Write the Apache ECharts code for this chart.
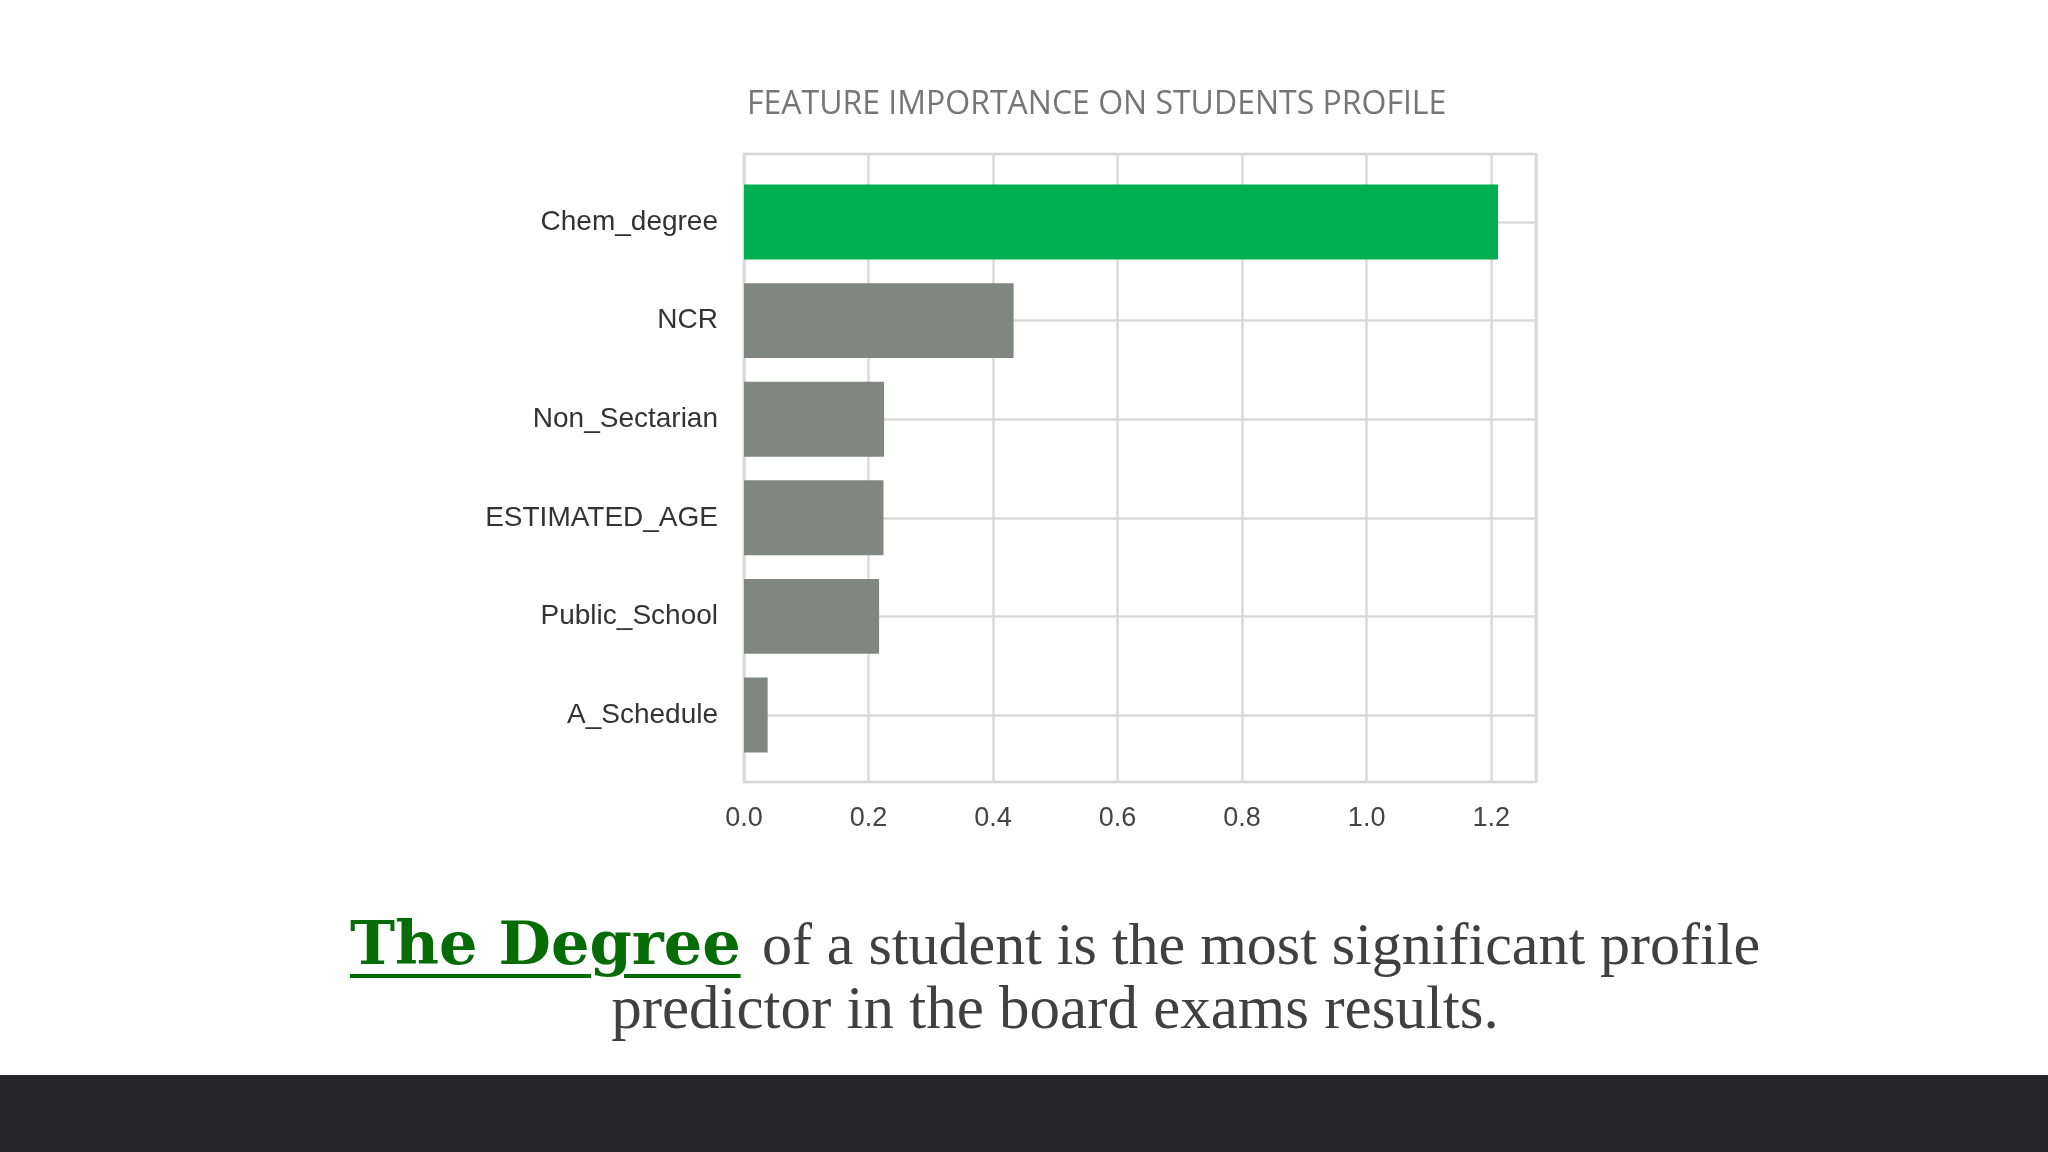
<!DOCTYPE html>
<html>
<head>
<meta charset="utf-8">
<script src="https://cdn.jsdelivr.net/npm/echarts@6/dist/echarts.min.js"></script>
<style>
  html, body { margin: 0; padding: 0; background: #ffffff; }
  #chart { position: absolute; left: 0; top: 0; width: 2048px; height: 1152px; }
  .cap { position: absolute; left: 31px; width: 2048px; text-align: center; white-space: nowrap;
         font-family: "Liberation Serif", "DejaVu Serif", serif; font-size: 61px; line-height: 65px; color: #404040; }
  .hl { font-family: "DejaVu Serif", serif; font-weight: bold; font-size: 60.5px; color: #066c06;
        text-decoration: underline; text-decoration-thickness: 4px; text-underline-offset: 10px; margin-right: 6px; }
  .rest { font-size: 60px; }
  #footer { position: absolute; left: 0; top: 1075px; width: 2048px; height: 77px; background: #262628; }
</style>
</head>
<body>
<div id="chart"></div>
<div class="cap" style="top:910px;"><span class="hl">The Degree</span> <span class="rest">of a student is the most significant profile</span></div>
<div class="cap" style="top:975px;">predictor in the board exams results.</div>
<div id="footer"></div>
<script>
const titleText = 'FEATURE IMPORTANCE ON STUDENTS PROFILE';
const categories = ['Chem_degree', 'NCR', 'Non_Sectarian', 'ESTIMATED_AGE', 'Public_School', 'A_Schedule'];
const importance = [1.211, 0.433, 0.225, 0.224, 0.217, 0.038];
const highlighted = ['Chem_degree'];
const xMin = 0;
const xMax = 1.272;
const xStep = 0.2;

const GREEN = '#00b050';
const GRAY = '#7f8780';
const GRID_COLOR = '#dadada';

const chart = echarts.init(document.getElementById('chart'), null, { renderer: 'canvas' });

const barData = categories.map((c, i) => ({
  value: importance[i],
  itemStyle: { color: highlighted.includes(c) ? GREEN : GRAY }
}));

chart.setOption({
  backgroundColor: '#ffffff',
  animation: false,
  title: {
    text: titleText,
    left: 742,
    top: 84,
    textStyle: { fontFamily: 'Open Sans', fontWeight: 'normal', fontSize: 32, color: '#767676' }
  },
  grid: [
    { left: 744, top: 154, width: 792, height: 628, show: true, borderColor: '#d4d4d4', borderWidth: 2.5, backgroundColor: 'transparent' },
    { left: 744, top: 222, width: 792, height: 493 }
  ],
  xAxis: [
    {
      gridIndex: 0, type: 'value', min: xMin, max: xMax, interval: xStep,
      axisLine: { show: false }, axisTick: { show: false },
      splitLine: { show: true, lineStyle: { color: GRID_COLOR, width: 2.5 } },
      axisLabel: {
        showMaxLabel: false, margin: 23, fontSize: 27, color: '#444444',
        fontFamily: 'Liberation Sans',
        formatter: v => v.toFixed(1)
      }
    },
    { gridIndex: 1, type: 'value', min: xMin, max: xMax, show: false, splitLine: { show: false } }
  ],
  yAxis: [
    { gridIndex: 0, type: 'value', show: false, splitLine: { show: false } },
    {
      gridIndex: 1, type: 'category', data: categories, inverse: true, boundaryGap: false,
      axisLine: { show: false }, axisTick: { show: false },
      splitLine: { show: true, lineStyle: { color: GRID_COLOR, width: 2.5 } },
      axisLabel: { margin: 26, fontSize: 28, color: '#333333', fontFamily: 'Liberation Sans', padding: [5, 0, 0, 0] }
    }
  ],
  series: [
    {
      type: 'bar', xAxisIndex: 1, yAxisIndex: 1, data: barData,
      barWidth: '76%', clip: false, z: 3
    }
  ]
});
</script>
</body>
</html>
